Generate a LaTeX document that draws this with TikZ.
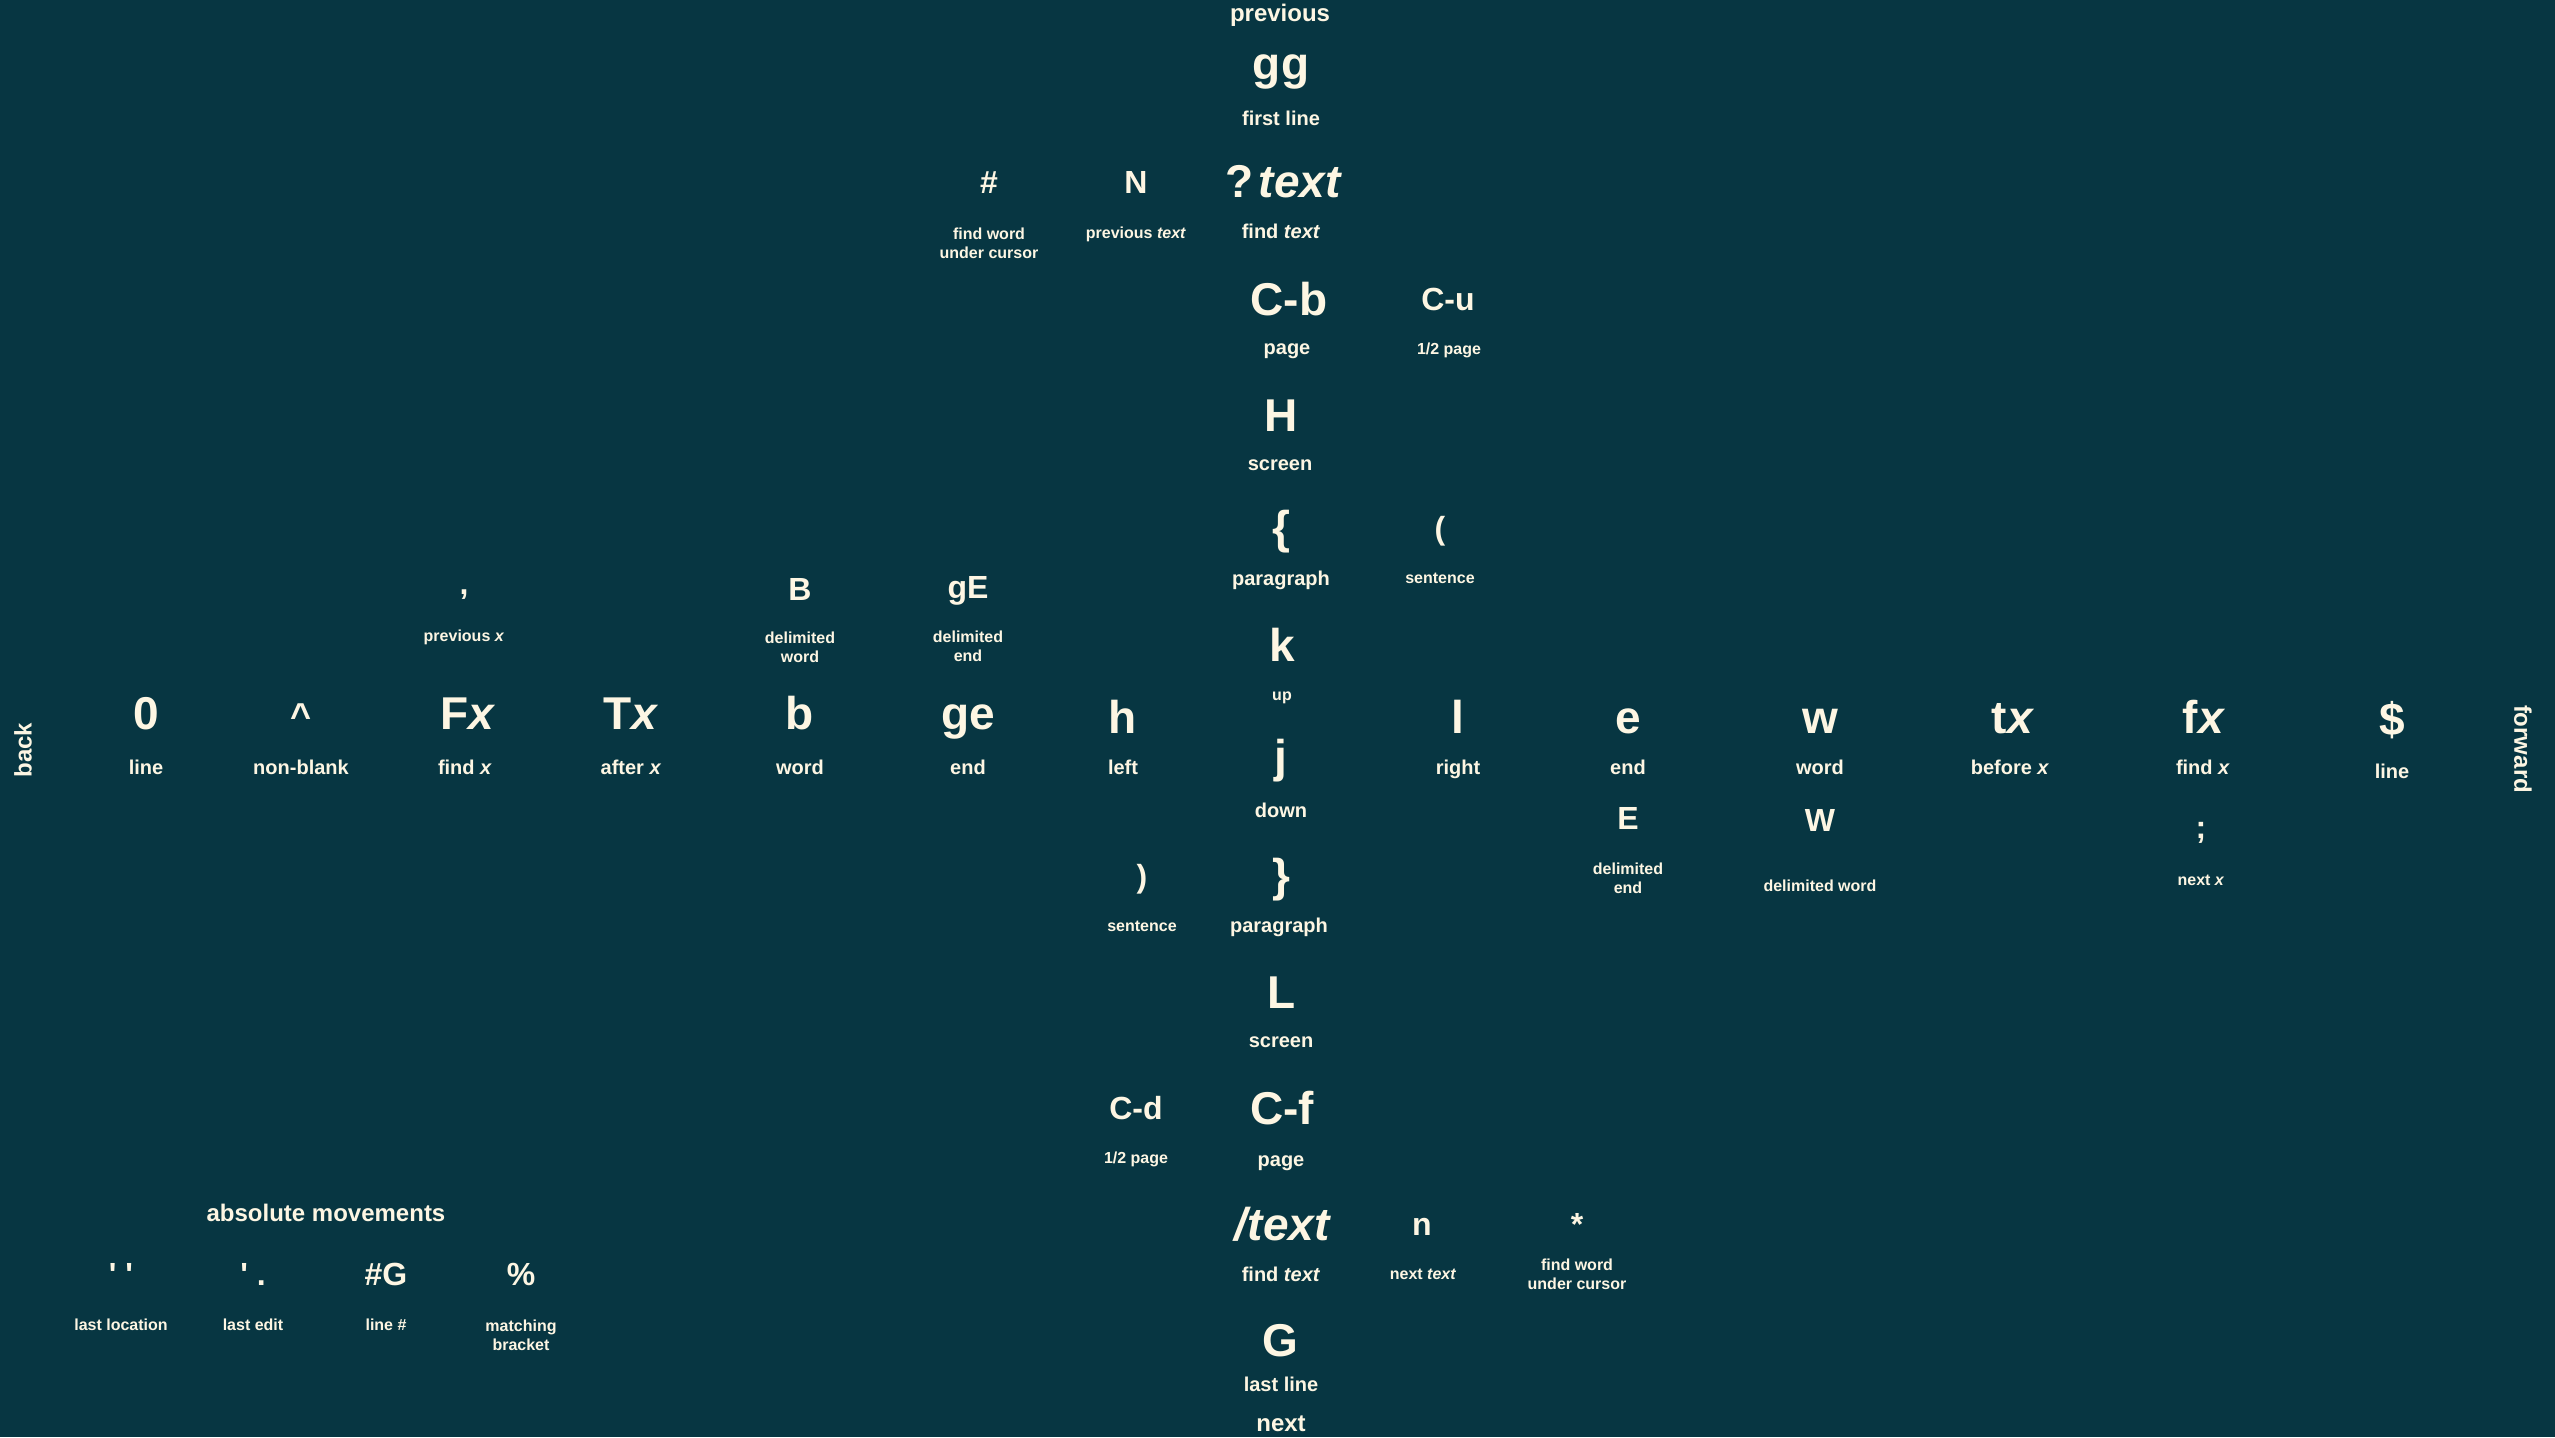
\documentclass[tikz,border=0pt]{standalone}
\usepackage{fontspec}
\setmainfont{Liberation Sans}
\newfontfamily\qfont{Liberation Sans}[Ligatures=TeXOff]
\definecolor{bg}{HTML}{073642}
\definecolor{fg}{HTML}{FDF6E3}
\newcommand{\tl}[2]{\begin{tabular}[t]{@{}c@{}}#1\\#2\end{tabular}}
\tikzset{
  txt/.style={text=fg, inner sep=0pt, anchor=base},
  bigkey/.style={txt, font=\bfseries\fontsize{46}{50}\selectfont},
  medkey/.style={txt, font=\bfseries\fontsize{32}{36}\selectfont},
  lab/.style={txt, font=\bfseries\fontsize{20}{24}\selectfont},
  sml/.style={txt, font=\bfseries\fontsize{16}{19}\selectfont},
  head/.style={txt, font=\bfseries\fontsize{24}{28}\selectfont},
}
\begin{document}
\begin{tikzpicture}[x=1pt,y=-1pt]
\fill[bg] (0,0) rectangle (2555,1437);
\useasboundingbox (0,0) rectangle (2555,1437);

% side headings
\node[head] (hprev) at (1280,22) {previous};
\node[head] (hnext) at (1281,1431) {next};
\node[head, anchor=center, rotate=90] (hback) at (23,750) {back};
\node[head, anchor=center, rotate=-90] (hfwd) at (2523,749) {forward};

% vertical column
\node[bigkey] (kgg) at (1281,79) {gg};
\node[lab] (lgg) at (1281,125) {first line};
\node[bigkey] (kqt) at (1284,197) {?\hspace{5pt}\textit{text}};
\node[lab] (lqt) at (1281,238) {find \textit{text}};
\node[medkey] (khash) at (989,193) {\#};
\node[sml] (lhash) at (989,239) {\tl{find word}{under cursor}};
\node[medkey] (kN) at (1136,193) {N};
\node[sml] (lN) at (1136,238) {previous \textit{text}};
\node[bigkey] (kcb) at (1289,315) {C-b};
\node[lab] (lcb) at (1287,354) {page};
\node[medkey] (kcu) at (1448,310) {C-u};
\node[sml] (lcu) at (1449,354) {1/2 page};
\node[bigkey] (kH) at (1281,431) {H};
\node[lab] (lH) at (1280,470) {screen};
\node[bigkey] (klb) at (1281,543) {\{};
\node[lab] (llb) at (1281,585) {paragraph};
\node[medkey] (klp) at (1440,539) {(};
\node[sml] (llp) at (1440,583) {sentence};
\node[bigkey] (kk) at (1282,661) {k};
\node[sml] (lk) at (1282,700) {up};
\node[bigkey] (kj) at (1281,772) {j};
\node[lab] (lj) at (1281,817) {down};
\node[bigkey] (krb) at (1281,891) {\}};
\node[lab] (lrb) at (1279,932) {paragraph};
\node[medkey] (krp) at (1142,887) {)};
\node[sml] (lrp) at (1142,931) {sentence};
\node[bigkey] (kL) at (1282,1008) {L};
\node[lab] (lL) at (1281,1047) {screen};
\node[medkey] (kcd) at (1136,1119) {C-d};
\node[sml] (lcd) at (1136,1163) {1/2 page};
\node[bigkey] (kcf) at (1282,1124) {C-f};
\node[lab] (lcf) at (1281,1166) {page};
\node[bigkey] (ksl) at (1283,1240) {\textit{/text}};
\node[lab] (lsl) at (1281,1281) {find \textit{text}};
\node[medkey] (kn) at (1422,1235) {n};
\node[sml] (ln) at (1423,1279) {next \textit{text}};
\node[medkey] (kstar) at (1577,1235) {*};
\node[sml] (lstar) at (1577,1270) {\tl{find word}{under cursor}};
\node[bigkey] (kG) at (1280,1356) {G};
\node[lab] (lG) at (1281,1391) {last line};

% horizontal row, back side
\node[bigkey] (k0) at (146,729) {0};
\node[lab] (l0) at (146,774) {line};
\node[txt, font=\bfseries\fontsize{36}{40}\selectfont] (kcaret) at (301,728) {\textasciicircum};
\node[lab] (lcaret) at (301,774) {non-blank};
\node[bigkey] (kFx) at (468,729) {F\textit{x}};
\node[lab] (lFx) at (465,774) {find \textit{x}};
\node[bigkey] (kTx) at (631,729) {T\textit{x}};
\node[lab] (lTx) at (631,774) {after \textit{x}};
\node[bigkey] (kb) at (800,729) {b};
\node[lab] (lb) at (800,774) {word};
\node[bigkey] (kge) at (968,729) {ge};
\node[lab] (lge) at (968,774) {end};
\node[bigkey] (kh) at (1123,733) {h};
\node[lab] (lh) at (1123,774) {left};

% horizontal row, forward side
\node[bigkey] (kl) at (1458,733) {l};
\node[lab] (ll) at (1458,774) {right};
\node[bigkey] (ke) at (1628,733) {e};
\node[lab] (le) at (1628,774) {end};
\node[bigkey] (kw) at (1820,733) {w};
\node[lab] (lw) at (1820,774) {word};
\node[bigkey] (ktx) at (2013,733) {t\textit{x}};
\node[lab] (ltx) at (2010,774) {before \textit{x}};
\node[bigkey] (kfx) at (2204,733) {f\textit{x}};
\node[lab] (lfx) at (2203,774) {find \textit{x}};
\node[bigkey] (kdollar) at (2392,735) {\$};
\node[lab] (ldollar) at (2392,778) {line};

% secondary keys above the back side
\node[medkey] (kcomma) at (464,594) {,};
\node[sml] (lcomma) at (464,641) {previous \textit{x}};
\node[medkey] (kB) at (800,600) {B};
\node[sml] (lB) at (800,643) {\tl{delimited}{word}};
\node[medkey] (kgE) at (968,598) {gE};
\node[sml] (lgE) at (968,642) {\tl{delimited}{end}};

% secondary keys below the forward side
\node[medkey] (kE) at (1628,829) {E};
\node[sml] (lE) at (1628,874) {\tl{delimited}{end}};
\node[medkey] (kW) at (1820,831) {W};
\node[sml] (lW) at (1820,891) {delimited word};
\node[medkey] (ksemi) at (2201,838) {;};
\node[sml] (lsemi) at (2201,885) {next \textit{x}};

% absolute movements
\node[head] (habs) at (326,1221) {absolute movements};
\node[medkey] (kqq) at (121,1285) {\qfont ' '};
\node[sml] (lqq) at (121,1330) {last location};
\node[medkey] (kqd) at (253,1285) {\qfont ' .};
\node[sml] (lqd) at (253,1330) {last edit};
\node[medkey] (khG) at (386,1285) {\#G};
\node[sml] (lhG) at (386,1330) {line \#};
\node[medkey] (kpct) at (521,1285) {\%};
\node[sml] (lpct) at (521,1331) {\tl{matching}{bracket}};
\end{tikzpicture}
\end{document}
